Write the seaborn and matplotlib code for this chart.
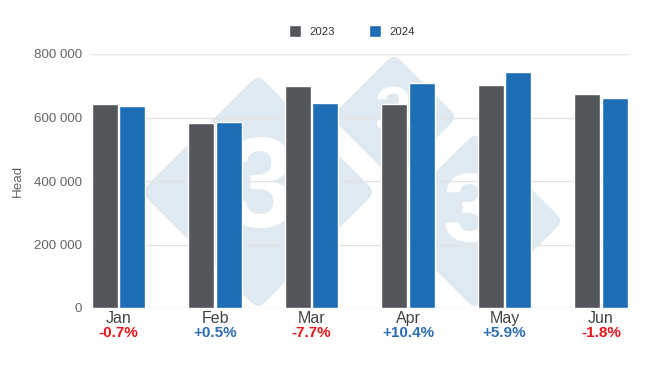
import matplotlib
matplotlib.use("Agg")
import matplotlib.pyplot as plt
from matplotlib.patches import Polygon
from matplotlib.ticker import FuncFormatter
import pandas as pd
import seaborn as sns

# ---- data ----
months = ["Jan", "Feb", "Mar", "Apr", "May", "Jun"]
years = ["2023", "2024"]
values_2023 = [642000, 582000, 700000, 641000, 702000, 673000]
values_2024 = [637500, 585000, 646500, 707500, 743500, 661000]
pct_labels = ["-0.7%", "+0.5%", "-7.7%", "+10.4%", "+5.9%", "-1.8%"]
y_ticks = [0, 200000, 400000, 600000, 800000]

df = pd.DataFrame({
    "month": months * 2,
    "year": [years[0]] * len(months) + [years[1]] * len(months),
    "value": values_2023 + values_2024,
})

GRAY = "#53565b"
BLUE = "#1e6eb6"
RED_TXT = "#e8161c"
BLUE_TXT = "#2c6db3"

sns.set_style("white")
plt.rcParams["font.family"] = ["Liberation Sans", "DejaVu Sans"]

W, H = 650, 366
fig = plt.figure(figsize=(6.5, 3.66), dpi=100)
ax = fig.add_axes([91 / W, 1 - 308 / H, (628.5 - 91) / W, (308 - 54) / H])
ax.patch.set_alpha(0)

# ---- watermark (decorative, figure pixel coordinates) ----
def fpx(x, y):
    return (x / W, 1 - y / H)

wm_color = "#dfe9f1"
for cx, cy, hd, fs, tx, ty in [(258, 192, 114, 92, 260, 194),
                               (394, 117, 60, 48, 393, 116),
                               (475, 221, 85, 70, 470, 216)]:
    r = 8
    h = hd - r
    pts = [fpx(cx, cy - h), fpx(cx + h, cy), fpx(cx, cy + h), fpx(cx - h, cy)]
    poly = Polygon(pts, closed=True, transform=fig.transFigure,
                   facecolor=wm_color, edgecolor=wm_color,
                   linewidth=2 * r * 0.72, joinstyle="round", zorder=-2)
    fig.add_artist(poly)
    fig.text(*fpx(tx, ty), "3", transform=fig.transFigure, ha="center",
             va="center", fontsize=fs, fontweight="bold", color="white",
             zorder=-1)

# ---- bars ----
sns.barplot(data=df, x="month", y="value", hue="year", order=months,
            hue_order=years, palette=[GRAY, BLUE], width=0.57, gap=0.07,
            saturation=1, ax=ax, zorder=2, legend=True)

ax.set_xlim(-0.285, 5.285)
ax.set_ylim(0, 800000)
ax.set_yticks(y_ticks)
ax.yaxis.set_major_formatter(FuncFormatter(lambda v, p: f"{int(v):,}".replace(",", " ")))
ax.yaxis.grid(True, color="#e3e3e3", linewidth=1, zorder=0)
ax.set_axisbelow(True)
for s in ax.spines.values():
    s.set_visible(False)
ax.tick_params(axis="y", length=0, pad=6.5, labelsize=9.6, labelcolor="#666666")
ax.tick_params(axis="x", length=0, pad=2.5, labelsize=11.5, labelcolor="#444444")
ax.set_xlabel("")
ax.set_ylabel("Head", fontsize=9.6, color="#666666")
ax.yaxis.set_label_coords(-(91 - 24) / (628.5 - 91), 0.5)

# percent labels under month names
for i, lab in enumerate(pct_labels):
    col = RED_TXT if lab.startswith("-") else BLUE_TXT
    ax.annotate(lab, xy=(i, 0), xycoords=("data", "axes fraction"),
                xytext=(0, -18), textcoords="offset points",
                ha="center", va="center", fontsize=11, fontweight="bold",
                color=col)

# legend
handles, labels = ax.get_legend_handles_labels()
ax.legend_.remove()
fig.legend(handles, labels, loc="center", bbox_to_anchor=fpx(352, 31),
           ncol=2, frameon=False, fontsize=8.2, labelcolor="#333333",
           handlelength=1.05, handleheight=1.2, handletextpad=0.7,
           columnspacing=3.0, borderaxespad=0, borderpad=0)

fig.savefig("out.png", dpi=100)
